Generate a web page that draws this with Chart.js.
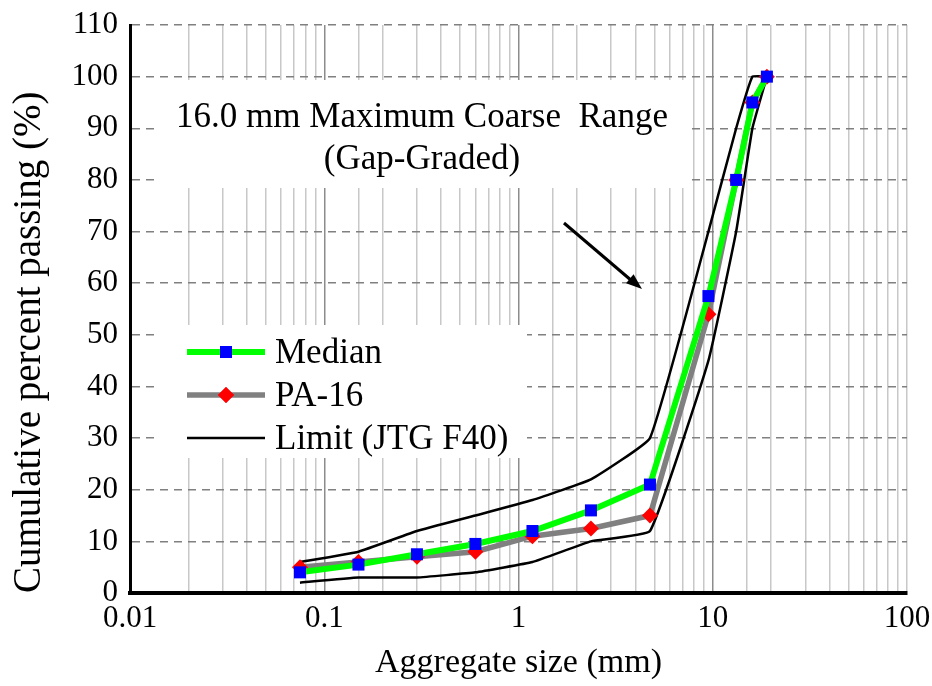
<!DOCTYPE html>
<html>
<head>
<meta charset="utf-8">
<script src="https://cdn.jsdelivr.net/npm/chart.js@4.4.1/dist/chart.umd.min.js"></script>
<style>
  body { margin: 0; background: #fff; }
  canvas { display: block; }
</style>
</head>
<body>
<canvas id="gradationChart" width="932" height="686"></canvas>
<script>
// sieve sizes (mm) and cumulative percent passing
const sieveSizes = [0.075, 0.15, 0.3, 0.6, 1.18, 2.36, 4.75, 9.5, 13.2, 16, 19];
const medianPassing = [4, 5.5, 7.5, 9.5, 12, 16, 21, 57.5, 80, 95, 100];
const pa16Passing = [5, 6, 7, 8, 11, 12.5, 15, 54, 80, 95, 100];
const upperLimit = [6, 8, 12, 15, 18, 22, 30, 70, 90, 100, 100];
const lowerLimit = [2, 3, 3, 4, 6, 10, 12, 45, 70, 90, 100];

const seriesNames = ['Median', 'PA-16', 'Limit (JTG F40)'];
const annotationLines = ['16.0 mm Maximum Coarse  Range', '(Gap-Graded)'];

const serif = "'Liberation Serif', 'Times New Roman', serif";

function toPoints(values) {
    return sieveSizes.map((s, i) => ({ x: s, y: values[i] }));
}

function isDecade(v) {
    const l = Math.log10(v);
    return Math.abs(l - Math.round(l)) < 1e-6;
}

// white boxes, annotation, arrow and legend drawn over the grid
const overlayPlugin = {
    id: 'overlay',
    beforeDatasetsDraw(chart) {
        const ctx = chart.ctx;
        ctx.save();
        ctx.fillStyle = '#fff';
        ctx.fillRect(155, 80, 532, 108);
        ctx.fillRect(160, 325, 367, 133);

        ctx.fillStyle = '#000';
        ctx.font = '35px ' + serif;
        ctx.textAlign = 'center';
        ctx.textBaseline = 'alphabetic';
        ctx.fillText(annotationLines[0], 422, 127);
        ctx.fillText(annotationLines[1], 422, 169);

        // arrow
        ctx.strokeStyle = '#000';
        ctx.lineWidth = 3;
        ctx.beginPath();
        ctx.moveTo(564, 223);
        ctx.lineTo(632, 281);
        ctx.stroke();
        const ang = Math.atan2(289 - 223, 642 - 564);
        ctx.beginPath();
        ctx.moveTo(642, 289);
        ctx.lineTo(642 - 17 * Math.cos(ang - 0.35), 289 - 17 * Math.sin(ang - 0.35));
        ctx.lineTo(642 - 17 * Math.cos(ang + 0.35), 289 - 17 * Math.sin(ang + 0.35));
        ctx.closePath();
        ctx.fill();

        // legend
        const rows = [352, 395, 438];
        const ds = chart.data.datasets;
        ctx.textAlign = 'left';
        ctx.textBaseline = 'middle';
        for (let i = 0; i < 3; i++) {
            const d = ds[i];
            const y = rows[i];
            ctx.strokeStyle = d.borderColor;
            ctx.lineWidth = d.borderWidth;
            ctx.beginPath();
            ctx.moveTo(187, y);
            ctx.lineTo(265, y);
            ctx.stroke();
            if (d.pointRadius > 0) {
                ctx.fillStyle = d.pointBackgroundColor;
                ctx.strokeStyle = d.pointBackgroundColor;
                Chart.helpers.drawPoint(ctx, {
                    pointStyle: d.pointStyle,
                    radius: d.pointRadius,
                    borderWidth: 0
                }, 226, y);
                ctx.fill();
            }
            ctx.fillStyle = '#000';
            ctx.fillText(seriesNames[i], 275, y + 2);
        }
        ctx.restore();
    }
};

const ctx = document.getElementById('gradationChart').getContext('2d');
new Chart(ctx, {
    type: 'line',
    data: {
        datasets: [
            {
                label: seriesNames[0],
                data: toPoints(medianPassing),
                borderColor: '#00ff00',
                borderWidth: 6,
                pointStyle: 'rect',
                pointRadius: 8.5,
                pointBackgroundColor: '#0000ff',
                pointBorderWidth: 0,
                tension: 0
            },
            {
                label: seriesNames[1],
                data: toPoints(pa16Passing),
                borderColor: '#808080',
                borderWidth: 5.5,
                pointStyle: 'rectRot',
                pointRadius: 8,
                pointBackgroundColor: '#ff0000',
                pointBorderWidth: 0,
                tension: 0
            },
            {
                label: seriesNames[2],
                data: toPoints(upperLimit),
                borderColor: '#000',
                borderWidth: 2.5,
                pointRadius: 0,
                tension: 0.1
            },
            {
                label: 'lower',
                data: toPoints(lowerLimit),
                borderColor: '#000',
                borderWidth: 2.5,
                pointRadius: 0,
                tension: 0.1
            }
        ]
    },
    options: {
        responsive: false,
        devicePixelRatio: 1,
        animation: false,
        events: [],
        layout: { padding: { left: 0, right: 25, top: 25, bottom: 0 } },
        plugins: {
            legend: { display: false },
            tooltip: { enabled: false }
        },
        scales: {
            x: {
                type: 'logarithmic',
                min: 0.01,
                max: 100,
                border: { display: true, color: '#000', width: 4 },
                grid: {
                    drawTicks: false,
                    lineWidth: 1.5,
                    color: c => (c.tick && isDecade(c.tick.value) && c.tick.value < 100) ? '#8c8c8c' : '#c8c8c8'
                },
                ticks: {
                    autoSkip: false,
                    maxRotation: 0,
                    padding: 7,
                    color: '#000',
                    font: { family: serif, size: 31 },
                    callback: v => isDecade(v) ? String(Number(v.toPrecision(3))) : ''
                },
                title: {
                    display: true,
                    text: 'Aggregate size (mm)',
                    color: '#000',
                    font: { family: serif, size: 34 },
                    padding: { top: 0, bottom: 3 }
                },
                afterFit(scale) {
                    scale.height = 93;
                    scale.paddingLeft = 0;
                    scale.paddingRight = 0;
                }
            },
            y: {
                min: 0,
                max: 110,
                border: { display: true, color: '#000', width: 3, dash: [8, 6] },
                grid: {
                    drawTicks: false,
                    color: '#808080',
                    lineWidth: 1.5
                },
                ticks: {
                    stepSize: 10,
                    padding: 12,
                    color: '#000',
                    font: { family: serif, size: 31 }
                },
                title: {
                    display: true,
                    align: 'start',
                    text: 'Cumulative percent passing (%)',
                    color: '#000',
                    font: { family: serif, size: 39 },
                    padding: { top: 6, bottom: 0 }
                },
                afterFit(scale) {
                    scale.width = 130;
                    scale.paddingTop = 0;
                    scale.paddingBottom = 0;
                }
            }
        }
    },
    plugins: [overlayPlugin]
});
</script>
</body>
</html>
